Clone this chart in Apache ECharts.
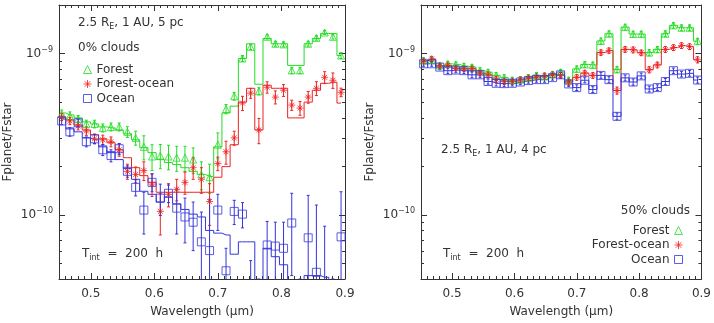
<!DOCTYPE html>
<html>
<head>
<meta charset="utf-8">
<script src="https://cdn.jsdelivr.net/npm/echarts@6/dist/echarts.min.js"></script>
<style>
  html, body { margin: 0; background: #fff; }
  #chart { width: 714px; height: 323px; }
</style>
</head>
<body>
<div id="chart"></div>
<script>
  // wavelength bin centres (micron)
  const wavelength = [0.4542, 0.4671, 0.4801, 0.4930, 0.5059, 0.5189, 0.5318, 0.5447, 0.5576, 0.5706,
    0.5835, 0.5964, 0.6094, 0.6223, 0.6352, 0.6482, 0.6611, 0.6740, 0.6869, 0.6999,
    0.7128, 0.7257, 0.7387, 0.7516, 0.7645, 0.7775, 0.7904, 0.8033, 0.8162, 0.8292,
    0.8421, 0.8550, 0.8680, 0.8809, 0.8938]

  // all fluxes in units of 1e-10 Fplanet/Fstar
  // left panel: 0% clouds, 5 pc (noisy points + model steps)
  const forest0 = [4.22, 4.10, 3.93, 3.66, 3.66, 3.46, 3.51, 3.51, 3.27, 3.00, 2.64, 2.30, 2.33, 2.30, 2.26, 2.26, 2.20, 1.78, 1.71, 2.72,
    4.53, 5.44, 9.32, 11.0, 5.84, 12.7, 11.5, 11.4, 7.86, 7.86, 11.5, 12.5, 13.5, 12.7, 9.72]
  const forest0Model = [4.28, 4.16, 3.99, 3.77, 3.66, 3.51, 3.46, 3.36, 3.18, 2.92, 2.61, 2.43, 2.20, 2.11, 2.05, 1.96, 1.86, 1.78, 1.73, 2.64,
    4.28, 4.72, 9.32, 11.5, 6.45, 12.4, 11.5, 11.5, 8.44, 8.44, 11.5, 12.4, 13.3, 13.3, 9.72]
  const forest0Err = [0.25, 0.25, 0.2, 0.2, 0.2, 0.2, 0.2, 0.2, 0.25, 0.3, 0.45, 0.42, 0.4, 0.4, 0.4, 0.4, 0.4, 0.35, 0.35, 0.5,
    0.3, 0.3, 0.4, 0.4, 0.3, 0.4, 0.4, 0.4, 0.35, 0.35, 0.4, 0.4, 0.4, 0.4, 0.4]

  const forestOcean0 = [4.04, 3.82, 3.56, 3.31, 2.96, 2.92, 2.84, 2.53, 1.86, 1.78, 1.88, 1.55, 1.05, 1.34, 1.44, 1.59, 1.96, 1.66, 1.21, 2.08,
    2.46, 3.00, 4.93, 5.68, 3.36, 6.18, 5.37, 5.92, 4.79, 4.59, 5.37, 6.09, 7.12, 6.83, 5.75]
  const forestOcean0Model = [4.04, 3.88, 3.61, 3.36, 3.13, 2.96, 2.80, 2.53, 2.26, 1.96, 1.75, 1.59, 1.38, 1.38, 1.38, 1.38, 1.38, 1.38, 1.38, 1.71,
    1.99, 2.72, 5.00, 6.09, 3.36, 6.36, 6.09, 6.09, 3.99, 3.99, 5.00, 5.92, 6.54, 6.64, 4.93]
  const forestOcean0Err = [0.2, 0.2, 0.2, 0.2, 0.2, 0.2, 0.2, 0.22, 0.2, 0.2, 0.25, 0.25, 0.3, 0.22, 0.22, 0.25, 0.3, 0.3, 0.35, 0.2,
    0.4, 0.3, 0.5, 0.4, 0.6, 0.5, 0.5, 0.5, 0.35, 0.45, 0.45, 0.6, 0.6, 0.75, 0.35]

  const ocean0 = [3.82, 3.27, 3.72, 2.84, 2.96, 2.53, 2.33, 2.57, 1.86, 1.48, 1.07, 1.59, 1.27, 1.36, 1.10, 0.97, 0.90, 0.68, 0.60, 1.07,
    0.45, 1.05, 1.01, 0.30, 0.30, 0.65, 0.64, 0.62, 0.89, 0.30, 0.72, 0.44, 0.35, 0.30, 0.73]
  const ocean0Model = [3.93, 3.41, 3.27, 3.00, 2.92, 2.64, 2.43, 2.20, 1.94, 1.66, 1.40, 1.34, 1.20, 1.29, 1.17, 1.08, 1.01, 0.97, 0.80, 0.77,
    0.75, 0.57, 0.68, 0.68, 0.30, 0.62, 0.55, 0.49, 0.35, 0.35, 0.42, 0.42, 0.41, 0.35, 0.35]
  const ocean0Err = [0.2, 0.2, 0.2, 0.2, 0.2, 0.2, 0.2, 0.2, 0.15, 0.17, 0.31, 0.2, 0.28, 0.17, 0.34, 0.3, 0.3, 0.36, 0.65, 0.27,
    0.17, 0.18, 0.18, 0.22, 0.1, 0.26, 0.26, 0.28, 0.47, 0.1, 0.6, 0.71, 0.5, 0.1, 0.66]

  // right panel: 50% clouds, 4 pc (points sit on the model)
  const forest50 = [9.06, 9.15, 8.44, 8.64, 8.56, 8.36, 8.24, 7.86, 7.67, 7.32, 7.09, 6.83, 6.89, 7.09, 7.32, 7.22, 7.43, 7.67, 6.83, 8.03,
    8.56, 8.50, 11.97, 13.27, 7.97, 14.59, 13.21, 13.21, 10.14, 10.61, 13.27, 14.96, 14.45, 14.45, 11.93]
  const forest50Err = [0.35, 0.35, 0.3, 0.3, 0.3, 0.3, 0.3, 0.3, 0.3, 0.3, 0.3, 0.3, 0.3, 0.3, 0.3, 0.3, 0.3, 0.3, 0.3, 0.35,
    0.35, 0.35, 0.5, 0.55, 0.35, 0.6, 0.55, 0.55, 0.45, 0.45, 0.55, 0.6, 0.6, 0.6, 0.5]

  const forestOcean50 = [8.99, 9.25, 8.38, 8.44, 8.11, 8.05, 8.05, 7.57, 7.38, 6.92, 6.73, 6.73, 6.87, 7.04, 7.16, 7.27, 7.38, 7.32, 6.66, 7.12,
    7.57, 7.32, 10.14, 10.43, 5.90, 10.61, 10.54, 10.11, 7.94, 8.50, 10.61, 10.89, 11.20, 11.04, 9.15]
  const forestOcean50Err = [0.35, 0.35, 0.3, 0.3, 0.3, 0.3, 0.3, 0.3, 0.3, 0.3, 0.3, 0.3, 0.3, 0.3, 0.3, 0.3, 0.3, 0.3, 0.3, 0.3,
    0.3, 0.3, 0.4, 0.4, 0.3, 0.45, 0.45, 0.4, 0.35, 0.35, 0.45, 0.45, 0.45, 0.45, 0.4]

  const ocean50 = [8.64, 8.64, 8.24, 7.83, 7.90, 7.83, 7.38, 7.38, 6.71, 6.54, 6.51, 6.54, 6.66, 6.80, 6.89, 6.89, 7.09, 7.38, 6.48, 6.15,
    6.83, 5.98, 7.32, 6.89, 4.08, 7.07, 6.66, 7.27, 6.03, 6.15, 6.71, 7.83, 7.46, 7.54, 6.85]
  const ocean50Err = [0.3, 0.3, 0.3, 0.3, 0.3, 0.3, 0.3, 0.3, 0.25, 0.25, 0.25, 0.25, 0.25, 0.25, 0.25, 0.25, 0.25, 0.25, 0.25, 0.25,
    0.25, 0.25, 0.3, 0.3, 0.2, 0.3, 0.3, 0.3, 0.25, 0.25, 0.3, 0.3, 0.3, 0.3, 0.3]

  // minor log ticks (2..9 per decade), same units
  const yMinorTicks = [0.5, 0.6, 0.7, 0.8, 0.9, 2, 3, 4, 5, 6, 7, 8, 9]

  const X_MIN = 0.45, X_MAX = 0.9, Y_MIN = 0.4, Y_MAX = 20
  const FONT = 'DejaVu Sans'
  const TEXT = '#333'
  const AXIS = '#333'
  const GREEN = '#22dd22', RED = '#ee2222', BLUE = '#3434dc'
  const ASTERISK = 'path://M5,0L5,10M0,5L10,5M1.5,1.5L8.5,8.5M1.5,8.5L8.5,1.5'

  const chart = echarts.init(document.getElementById('chart'))

  // vertical error bar with little caps
  function errorBar(params, api) {
    const x = api.value(0), v = api.value(1), s = api.value(2)
    const hi = api.coord([x, v + s])
    const lo = api.coord([x, Math.max(v - s, Y_MIN * 0.5)])
    const style = { stroke: api.visual('color'), lineWidth: 1 }
    return {
      type: 'group',
      children: [
        { type: 'line', shape: { x1: hi[0], y1: hi[1], x2: lo[0], y2: lo[1] }, style },
        { type: 'line', shape: { x1: hi[0] - 1.5, y1: hi[1], x2: hi[0] + 1.5, y2: hi[1] }, style },
        { type: 'line', shape: { x1: lo[0] - 1.5, y1: lo[1], x2: lo[0] + 1.5, y2: lo[1] }, style }
      ]
    }
  }

  // inward minor ticks on the log axes (left + right frame)
  function logMinorTick(params, api) {
    const cs = params.coordSys
    const y = Math.round(api.coord([X_MIN, api.value(1)])[1]) + 0.5
    const style = { stroke: AXIS, lineWidth: 1 }
    return {
      type: 'group',
      children: [
        { type: 'line', shape: { x1: cs.x, y1: y, x2: cs.x + 3, y2: y }, style },
        { type: 'line', shape: { x1: cs.x + cs.width, y1: y, x2: cs.x + cs.width - 3, y2: y }, style }
      ]
    }
  }

  function seriesFor(grid, name, color, symbol, size, values, model, errs) {
    const axes = { xAxisIndex: grid * 2, yAxisIndex: grid * 2 }
    return [
      {
        ...axes, name: name + ' model', type: 'line', step: 'middle', showSymbol: false, silent: true,
        data: wavelength.map((w, i) => [w, model[i]]),
        lineStyle: { color, width: 1 }, z: 2
      },
      {
        ...axes, name: name + ' error', type: 'custom', renderItem: errorBar, clip: true, silent: true,
        itemStyle: { color }, encode: { x: 0, y: 1 },
        data: wavelength.map((w, i) => [w, values[i], errs[i]]), z: 3
      },
      {
        ...axes, name, type: 'scatter', symbol, symbolSize: size,
        itemStyle: { color: symbol === ASTERISK ? color : 'none', borderColor: color, borderWidth: 1 },
        data: wavelength.map((w, i) => [w, values[i]]), z: 4
      }
    ]
  }

  function xAxisFor(grid, top) {
    return {
      type: 'value', gridIndex: grid, position: top ? 'top' : 'bottom',
      min: X_MIN, max: X_MAX, splitNumber: 5,
      name: top ? '' : 'Wavelength (μm)', nameLocation: 'middle', nameGap: 27,
      nameTextStyle: { color: TEXT, fontSize: 12, fontFamily: FONT },
      axisLine: { show: true, onZero: false, lineStyle: { color: AXIS } },
      axisTick: { inside: true, length: 6, lineStyle: { color: AXIS } },
      minorTick: { show: true, splitNumber: 10, length: 3, lineStyle: { color: AXIS } },
      axisLabel: {
        show: !top, margin: 9, color: TEXT, fontSize: 12, fontFamily: FONT, showMinLabel: false,
        formatter: v => Math.abs(v * 10 - Math.round(v * 10)) < 1e-6 ? v.toFixed(1) : ''
      },
      splitLine: { show: false }
    }
  }

  function yAxisFor(grid, right) {
    return {
      type: 'log', logBase: 10, gridIndex: grid, position: right ? 'right' : 'left',
      min: Y_MIN, max: Y_MAX,
      name: right ? '' : 'Fplanet/Fstar', nameLocation: 'middle', nameGap: 45, nameRotate: 90,
      nameTextStyle: { color: TEXT, fontSize: 12, fontFamily: FONT },
      axisLine: { show: true, onZero: false, lineStyle: { color: AXIS } },
      axisTick: { inside: true, length: 6, lineStyle: { color: AXIS } },
      axisLabel: {
        show: !right, margin: 6, color: TEXT, fontSize: 12, fontFamily: FONT, lineHeight: 16,
        formatter: v => {
          const e = Math.log10(v), r = Math.round(e)
          if (Math.abs(e - r) > 1e-6) return ''
          return '10{sup|−' + (10 - r) + '}'
        },
        rich: { sup: { fontSize: 8, lineHeight: 8, verticalAlign: 'top', color: TEXT, fontFamily: FONT } }
      },
      splitLine: { show: false }
    }
  }

  const rich = { sub: { fontSize: 8, lineHeight: 8, verticalAlign: 'bottom', fill: TEXT, fontFamily: FONT } }
  const label = (x, y, text, align = 'left') => ({
    type: 'text', x, y, silent: true,
    style: { text, fill: TEXT, fontSize: 12, fontFamily: FONT, lineHeight: 16, align, verticalAlign: 'middle', rich }
  })

  const legendBase = {
    orient: 'vertical', itemWidth: 8, itemHeight: 8, itemGap: 2, selectedMode: false,
    itemStyle: { borderWidth: 1 },
    textStyle: { color: TEXT, fontSize: 12, fontFamily: FONT },
    data: ['Forest', 'Forest-ocean', 'Ocean']
  }

  chart.setOption({
    animation: false,
    textStyle: { fontFamily: FONT },
    grid: [
      { left: 59, top: 5, width: 286, height: 274 },
      { left: 421, top: 5, width: 286, height: 274 }
    ],
    xAxis: [xAxisFor(0, false), xAxisFor(0, true), xAxisFor(1, false), xAxisFor(1, true)],
    yAxis: [yAxisFor(0, false), yAxisFor(0, true), yAxisFor(1, false), yAxisFor(1, true)],
    legend: [
      { ...legendBase, left: 76, top: 58 },
      { ...legendBase, right: 24, top: 219, align: 'right' }
    ],
    graphic: [
      label(78, 23, '2.5 R{sub|E}, 1 AU, 5 pc'),
      label(78, 48, '0% clouds'),
      label(82, 254, 'T{sub|int}  =  200  h'),
      label(441, 150, '2.5 R{sub|E}, 1 AU, 4 pc'),
      label(690, 211, '50% clouds', 'right'),
      label(443, 254, 'T{sub|int}  =  200  h')
    ],
    series: [
      ...seriesFor(0, 'Forest', GREEN, 'triangle', 7, forest0, forest0Model, forest0Err),
      ...seriesFor(0, 'Forest-ocean', RED, ASTERISK, 7, forestOcean0, forestOcean0Model, forestOcean0Err),
      ...seriesFor(0, 'Ocean', BLUE, 'rect', 8, ocean0, ocean0Model, ocean0Err),
      ...seriesFor(1, 'Forest', GREEN, 'triangle', 7, forest50, forest50, forest50Err),
      ...seriesFor(1, 'Forest-ocean', RED, ASTERISK, 7, forestOcean50, forestOcean50, forestOcean50Err),
      ...seriesFor(1, 'Ocean', BLUE, 'rect', 8, ocean50, ocean50, ocean50Err),
      { type: 'custom', xAxisIndex: 0, yAxisIndex: 0, renderItem: logMinorTick, silent: true, z: 1,
        data: yMinorTicks.map(v => [X_MIN, v]) },
      { type: 'custom', xAxisIndex: 2, yAxisIndex: 2, renderItem: logMinorTick, silent: true, z: 1,
        data: yMinorTicks.map(v => [X_MIN, v]) }
    ]
  })
</script>
</body>
</html>
